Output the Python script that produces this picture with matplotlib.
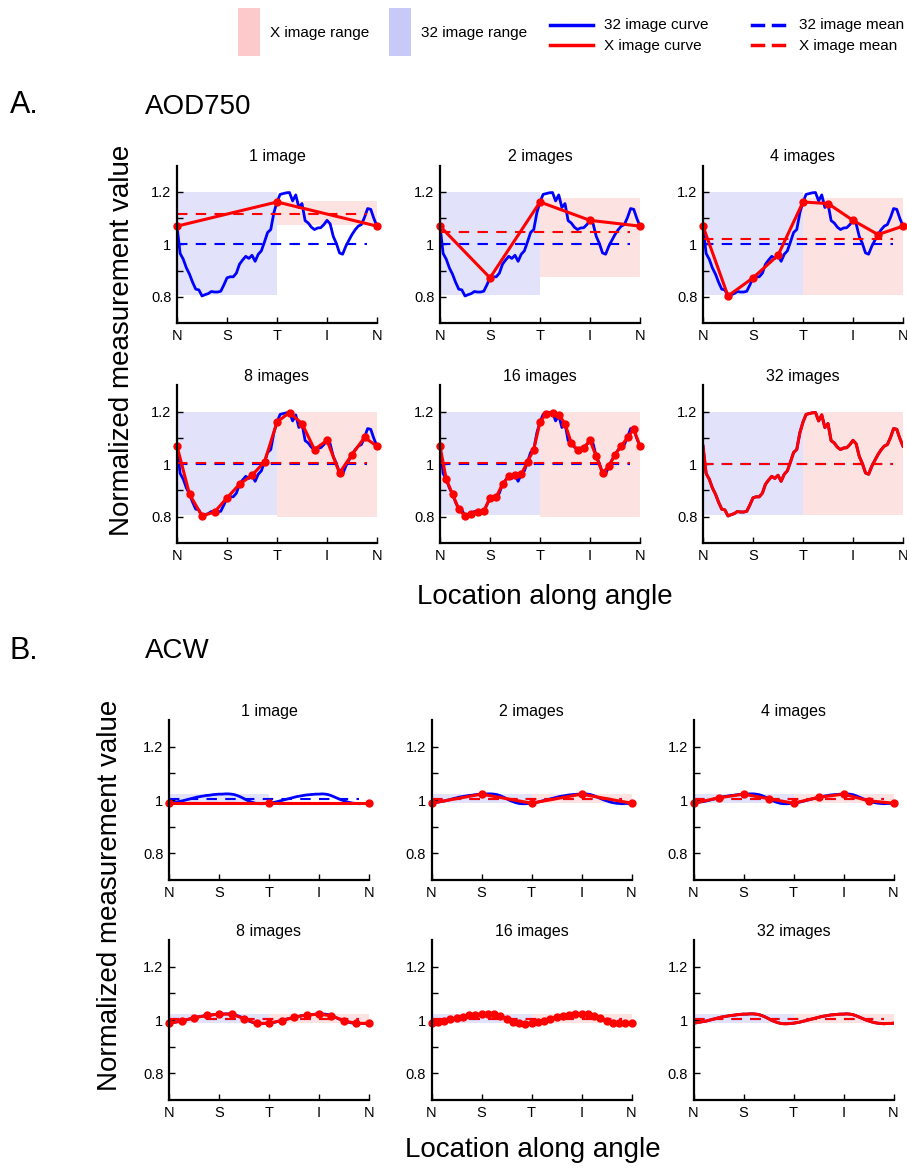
import numpy as np
import matplotlib
matplotlib.use('Agg')
import matplotlib.pyplot as plt
from matplotlib.patches import Rectangle

plt.rcParams['font.family'] = ['Liberation Sans', 'DejaVu Sans']

n_images = [1, 2, 4, 8, 16, 32]
angle_labels = ['N', 'S', 'T', 'I', 'N']

# 32 image curves, 64 locations + closing point (back at N)
aod750 = [1.069, 0.965, 0.943, 0.910, 0.886, 0.855, 0.829, 0.826, 0.803, 0.808,
          0.812, 0.820, 0.818, 0.818, 0.821, 0.845, 0.872, 0.876, 0.876, 0.890,
          0.924, 0.940, 0.954, 0.946, 0.958, 0.935, 0.962, 0.975, 1.009, 1.045,
          1.056, 1.120, 1.161, 1.190, 1.193, 1.196, 1.197, 1.165, 1.188, 1.140,
          1.155, 1.090, 1.081, 1.065, 1.056, 1.062, 1.063, 1.075, 1.091, 1.078,
          1.030, 1.003, 0.967, 0.962, 0.992, 1.015, 1.037, 1.055, 1.069, 1.075,
          1.102, 1.136, 1.133, 1.098, 1.069]
acw = [0.988, 0.990, 0.992, 0.994, 0.996, 0.999, 1.002, 1.005, 1.008, 1.011,
       1.013, 1.015, 1.017, 1.018, 1.020, 1.021, 1.022, 1.022, 1.023, 1.023,
       1.022, 1.020, 1.016, 1.011, 1.005, 0.999, 0.994, 0.990, 0.987, 0.986,
       0.986, 0.987, 0.988, 0.990, 0.992, 0.995, 0.998, 1.001, 1.004, 1.007,
       1.010, 1.013, 1.015, 1.017, 1.019, 1.020, 1.021, 1.022, 1.022, 1.023,
       1.022, 1.020, 1.016, 1.011, 1.006, 1.001, 0.997, 0.993, 0.990, 0.988,
       0.987, 0.986, 0.987, 0.987, 0.988]

aod750_full_range = [0.805, 1.20]
aod750_x_lo = [1.075, 0.875, 0.805, 0.80, 0.80, 0.805]
aod750_x_hi = [1.165, 1.175, 1.175, 1.20, 1.20, 1.20]
acw_full_range = [0.988, 1.022]
acw_x_lo = [0.988, 0.988, 0.988, 0.988, 0.988, 0.988]
acw_x_hi = [0.988, 1.021, 1.022, 1.023, 1.023, 1.023]

BLUE = '#0000ff'
RED = '#ff0000'
BLUE_FILL = '#e2e2fa'
RED_FILL = '#fde2e2'

W, H = 907, 1168
fig = plt.figure(figsize=(W / 100, H / 100), dpi=100)

# overlay for legend and panel headers, in pixel coordinates
ov = fig.add_axes([0, 0, 1, 1], zorder=-1)
ov.set_xlim(0, W)
ov.set_ylim(H, 0)
ov.axis('off')


def add_axes_px(left, top, bottom, width=200):
    return fig.add_axes([left / W, 1 - bottom / H, width / W, (bottom - top) / H])


def draw_panel(ax, curve, n, full_rng, lo, hi):
    curve = np.array(curve)
    x = np.arange(len(curve)) / (len(curve) - 1)
    step = 32 // n
    xs, ys = x[::step], curve[::step]
    full_mean = curve[:-1].mean()
    x_mean = ys[:-1].mean()
    ax.fill_between([0, 0.5], full_rng[0], full_rng[1], color=BLUE_FILL, lw=0)
    ax.fill_between([0.5, 1], lo, hi, color=RED_FILL, lw=0)
    ax.plot(x, curve, color=BLUE, lw=2)
    ax.plot([0, 0.95], [full_mean] * 2, color=BLUE, lw=1.5, dashes=(5, 4))
    if n < 32:
        ax.plot(xs, ys, color=RED, lw=2.2, marker='o', ms=5, clip_on=False)
    else:
        ax.plot(xs, ys, color=RED, lw=2.2)
    ax.plot([0, 0.95], [x_mean] * 2, color=RED, lw=1.5, dashes=(5, 4))

    ax.set_xlim(0, 1)
    ax.set_ylim(0.7, 1.3)
    ax.set_xticks([0, 0.25, 0.5, 0.75, 1])
    ax.set_xticklabels(angle_labels)
    ax.set_yticks([0.8, 1.0, 1.2])
    ax.set_yticklabels(['0.8', '1', '1.2'])
    ax.set_yticks([0.9, 1.1], minor=True)
    ax.tick_params(which='both', direction='in', length=4, width=1,
                   labelsize=10.5, pad=4)
    for s in ['top', 'right']:
        ax.spines[s].set_visible(False)
    for s in ['left', 'bottom']:
        ax.spines[s].set_linewidth(1.6)
    ax.patch.set_visible(False)
    ax.set_title('1 image' if n == 1 else f'{n} images', fontsize=11.5, pad=3)


panels = [
    (aod750, aod750_full_range, aod750_x_lo, aod750_x_hi,
     [177, 440, 703], [(165.5, 323), (385.5, 543)]),
    (acw, acw_full_range, acw_x_lo, acw_x_hi,
     [169, 431.5, 693.5], [(720, 880), (940, 1100)]),
]

for curve, full_rng, lo, hi, lefts, rows in panels:
    k = 0
    for top, bottom in rows:
        for left in lefts:
            ax = add_axes_px(left, top, bottom)
            draw_panel(ax, curve, n_images[k], full_rng, lo[k], hi[k])
            k += 1

# headers and shared labels
ov.text(10, 105, 'A.', fontsize=22, va='center', ha='left')
ov.text(145, 107, 'AOD750', fontsize=20, va='center', ha='left')
ov.text(10, 651, 'B.', fontsize=22, va='center', ha='left')
ov.text(145, 651, 'ACW', fontsize=20, va='center', ha='left')
ov.text(122, 340, 'Normalized measurement value', fontsize=20, rotation=90,
        va='center', ha='center')
ov.text(110, 895, 'Normalized measurement value', fontsize=20, rotation=90,
        va='center', ha='center')
ov.text(545, 597, 'Location along angle', fontsize=20, va='center', ha='center')
ov.text(533, 1150, 'Location along angle', fontsize=20, va='center', ha='center')

# legend
leg_font = 11
ov.add_patch(Rectangle((238, 8), 22, 48, color='#fccaca', lw=0))
ov.text(270, 33, 'X image range', fontsize=leg_font, va='center')
ov.add_patch(Rectangle((389, 8), 22, 48, color='#c9c9f8', lw=0))
ov.text(421, 33, '32 image range', fontsize=leg_font, va='center')
ov.plot([550, 593], [25, 25], color=BLUE, lw=2.5)
ov.plot([550, 593], [45, 45], color=RED, lw=2.5)
ov.text(604, 25, '32 image curve', fontsize=leg_font, va='center')
ov.text(604, 46, 'X image curve', fontsize=leg_font, va='center')
for x0 in [752, 773]:
    ov.plot([x0, x0 + 11], [25, 25], color=BLUE, lw=2.5)
    ov.plot([x0, x0 + 11], [45, 45], color=RED, lw=2.5)
ov.text(799, 25, '32 image mean', fontsize=leg_font, va='center')
ov.text(799, 46, 'X image mean', fontsize=leg_font, va='center')

fig.savefig('out.png', dpi=100)
